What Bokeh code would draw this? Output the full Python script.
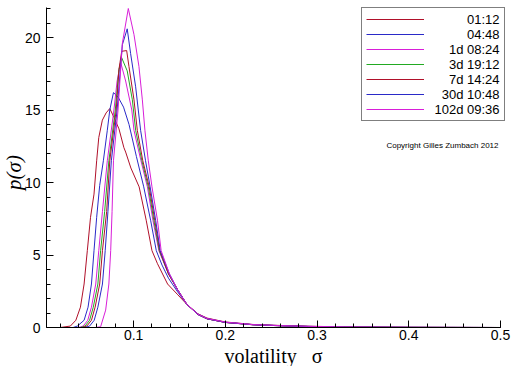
import math
from bokeh.plotting import figure
from bokeh.models import (Range1d, SingleIntervalTicker, Legend, LegendItem, Label)
from bokeh.embed import file_html
from bokeh.resources import INLINE

# ---- data ----
labels = ["01:12", "04:48", "1d 08:24", "3d 19:12", "7d 14:24", "30d 10:48", "102d 09:36"]
colors = ["#b0102a", "#2a2ac8", "#d81ed8", "#22aa22", "#b0102a", "#2a2ac8", "#d81ed8"]

tail_x = [0.170, 0.180, 0.200, 0.230, 0.260, 0.290, 0.330, 0.400, 0.500]

x1 = [0.020, 0.031, 0.037, 0.042, 0.046, 0.0495, 0.053, 0.0568, 0.0597, 0.062, 0.0659, 0.070, 0.074,
      0.0785, 0.084, 0.0894, 0.0913, 0.097, 0.106, 0.1137, 0.120, 0.126, 0.137, 0.1475, 0.158]
y1 = [0.0, 0.1, 0.5, 1.4, 3.0, 5.3, 7.6, 9.2, 11.5, 13.1, 14.3, 14.8, 15.1,
      14.5, 13.7, 12.4, 12.1, 11.0, 9.7, 7.4, 5.3, 4.4, 3.0, 2.3, 1.6]
t1 = [0.95, 0.65, 0.38, 0.21, 0.14, 0.09, 0.04, 0.01, 0.0]

x2 = [0.034, 0.0387, 0.046, 0.0503, 0.054, 0.0568, 0.0597, 0.063, 0.067, 0.0713, 0.074, 0.078, 0.083,
      0.089, 0.095, 0.103, 0.111, 0.1185, 0.1247, 0.131, 0.138, 0.1475, 0.158]
y2 = [0.0, 0.1, 0.5, 1.4, 3.0, 5.3, 7.6, 9.8, 11.5, 13.6, 15.0, 16.2, 15.9,
      15.2, 14.0, 11.8, 9.7, 7.4, 5.3, 4.3, 3.4, 2.5, 1.6]
t2 = [0.93, 0.62, 0.36, 0.20, 0.13, 0.08, 0.035, 0.01, 0.0]

x3 = [0.040, 0.045, 0.050, 0.054, 0.0587, 0.062, 0.066, 0.0713, 0.0785, 0.082, 0.0858, 0.0913, 0.098,
      0.1004, 0.108, 0.115, 0.121, 0.1275, 0.138, 0.148, 0.158]
y3 = [0.0, 0.1, 0.5, 1.4, 3.0, 5.3, 8.0, 11.5, 15.0, 17.0, 18.3, 17.0, 15.0,
      13.6, 11.5, 9.7, 7.4, 5.3, 3.7, 2.6, 1.6]
t3 = [0.90, 0.60, 0.35, 0.19, 0.12, 0.07, 0.03, 0.01, 0.0]

x4 = [0.042, 0.047, 0.052, 0.056, 0.061, 0.064, 0.0684, 0.073, 0.080, 0.084, 0.087, 0.093, 0.0986,
      0.1022, 0.109, 0.116, 0.122, 0.128, 0.138, 0.148, 0.158]
y4 = [0.0, 0.1, 0.5, 1.4, 3.0, 5.3, 8.0, 11.5, 15.0, 17.8, 18.6, 17.7, 15.7,
      13.6, 11.5, 9.7, 7.4, 5.3, 3.7, 2.6, 1.6]
t4 = [0.90, 0.60, 0.35, 0.19, 0.12, 0.07, 0.03, 0.01, 0.0]

x5 = [0.044, 0.049, 0.054, 0.058, 0.063, 0.066, 0.0706, 0.074, 0.081, 0.084, 0.087, 0.0924, 0.0949,
      0.1004, 0.104, 0.110, 0.117, 0.123, 0.1285, 0.138, 0.148, 0.158]
y5 = [0.0, 0.1, 0.5, 1.4, 3.0, 5.3, 8.0, 11.5, 15.0, 17.8, 19.05, 19.1, 18.0,
      15.7, 13.6, 11.5, 9.7, 7.4, 5.3, 3.7, 2.6, 1.6]
t5 = [0.90, 0.60, 0.35, 0.19, 0.12, 0.07, 0.03, 0.01, 0.0]

x6 = [0.047, 0.052, 0.057, 0.061, 0.066, 0.069, 0.072, 0.0757, 0.082, 0.0877, 0.093, 0.0967, 0.1022,
      0.1076, 0.113, 0.118, 0.124, 0.129, 0.139, 0.148, 0.158]
y6 = [0.0, 0.1, 0.5, 1.4, 3.0, 5.3, 8.0, 11.5, 15.0, 19.5, 20.6, 18.9, 16.6,
      13.6, 11.5, 9.7, 7.4, 5.3, 3.7, 2.6, 1.6]
t6 = [0.90, 0.60, 0.35, 0.19, 0.12, 0.07, 0.03, 0.01, 0.0]

x7 = [0.058, 0.064, 0.0695, 0.073, 0.075, 0.0765, 0.078, 0.083, 0.0877, 0.0942, 0.1004, 0.1058, 0.1095,
      0.1123, 0.116, 0.120, 0.126, 0.130, 0.139, 0.148, 0.158]
y7 = [0.0, 0.05, 1.2, 3.0, 5.3, 8.0, 11.5, 15.0, 19.6, 22.0, 20.2, 18.0, 15.7,
      13.6, 11.5, 9.7, 7.4, 5.3, 3.7, 2.6, 1.6]
t7 = [0.92, 0.62, 0.37, 0.20, 0.13, 0.08, 0.035, 0.01, 0.0]

xs = [x1, x2, x3, x4, x5, x6, x7]
ys = [y1, y2, y3, y4, y5, y6, y7]
ts = [t1, t2, t3, t4, t5, t6, t7]

x_ticks_interval = 0.1
y_ticks_interval = 5

# ---- layout (screen pixels) ----
W, H = 512, 366
AX_L, AX_R, AX_T, AX_B = 46, 500, 7, 327  # where the axes start and end
X0, X1 = 0.005, 0.5
Y0, Y1 = 0.0, 22.07

def px_to_x(px):
    return X0 + (px - AX_L) * (X1 - X0) / (AX_R - AX_L)

def py_to_y(py):
    return Y0 + (AX_B - py) * (Y1 - Y0) / (AX_B - AX_T)

# the frame fills the whole canvas; the axes sit at fixed data positions with bounds
p = figure(width=W, height=H, output_backend="svg", toolbar_location=None,
           x_range=Range1d(px_to_x(0), px_to_x(W)), y_range=Range1d(py_to_y(H), py_to_y(0)),
           min_border_left=0, min_border_right=0, min_border_top=0, min_border_bottom=0)
p.background_fill_color = "white"
p.border_fill_color = "white"
p.outline_line_color = None
p.grid.visible = False

tick_font = "Liberation Sans"
for ax in (p.xaxis[0], p.yaxis[0]):
    ax.axis_line_color = "black"
    ax.major_tick_in = 7
    ax.major_tick_out = 0
    ax.minor_tick_in = 4
    ax.minor_tick_out = 0
    ax.major_tick_line_color = "black"
    ax.minor_tick_line_color = "black"
    ax.major_label_text_font = tick_font
    ax.major_label_text_font_size = "14px"
    ax.major_label_text_color = "black"

p.xaxis[0].ticker = SingleIntervalTicker(interval=x_ticks_interval, num_minor_ticks=5)
p.yaxis[0].ticker = SingleIntervalTicker(interval=y_ticks_interval, num_minor_ticks=5)
p.xaxis[0].bounds = (X0, X1)
p.yaxis[0].bounds = (Y0, Y1)
p.xaxis[0].fixed_location = Y0
p.yaxis[0].fixed_location = X0
p.xaxis[0].major_label_standoff = 2
p.yaxis[0].major_label_standoff = 6

items = []
for lab, col, x, y, t in zip(labels, colors, xs, ys, ts):
    r = p.line(x + tail_x, y + t, line_color=col, line_width=1)
    items.append(LegendItem(label="", renderers=[r]))

pad, row_h, gap, lmargin = 4, 14, 1, 7
legend = Legend(items=items, location="top_right", margin=lmargin, padding=pad, spacing=gap,
                glyph_width=58, glyph_height=row_h, label_height=row_h, label_standoff=2,
                label_width=74, label_text_font_size="13px",
                border_line_color="black", border_line_width=1, background_fill_alpha=0.0)
p.add_layout(legend)

# right-aligned legend texts, on the legend rows
for i, lab in enumerate(labels):
    row_center = lmargin + pad + row_h / 2 + i * (row_h + gap) + 1
    p.add_layout(Label(x=px_to_x(W - lmargin - 6), y=py_to_y(row_center), text=lab,
                       text_font=tick_font, text_font_size="13px", text_align="right",
                       text_baseline="middle", text_color="black"))

p.add_layout(Label(x=px_to_x(498), y=py_to_y(145), text="Copyright Gilles Zumbach 2012",
                   text_font=tick_font, text_font_size="8px", text_align="right",
                   text_baseline="middle", text_color="black"))

# axis titles
p.add_layout(Label(x=px_to_x(13), y=py_to_y(172), text="p(\u03c3)", text_font="Liberation Serif",
                   text_font_style="italic", text_font_size="21px", text_align="center",
                   text_baseline="middle", angle=math.pi / 2, text_color="black"))
p.add_layout(Label(x=px_to_x(273), y=py_to_y(355), text="volatility\u00a0\u00a0\u00a0\u03c3",
                   text_font="Liberation Serif", text_font_size="20px", text_align="center",
                   text_baseline="middle", text_color="black"))

open("out.html", "w").write(file_html(p, INLINE))
